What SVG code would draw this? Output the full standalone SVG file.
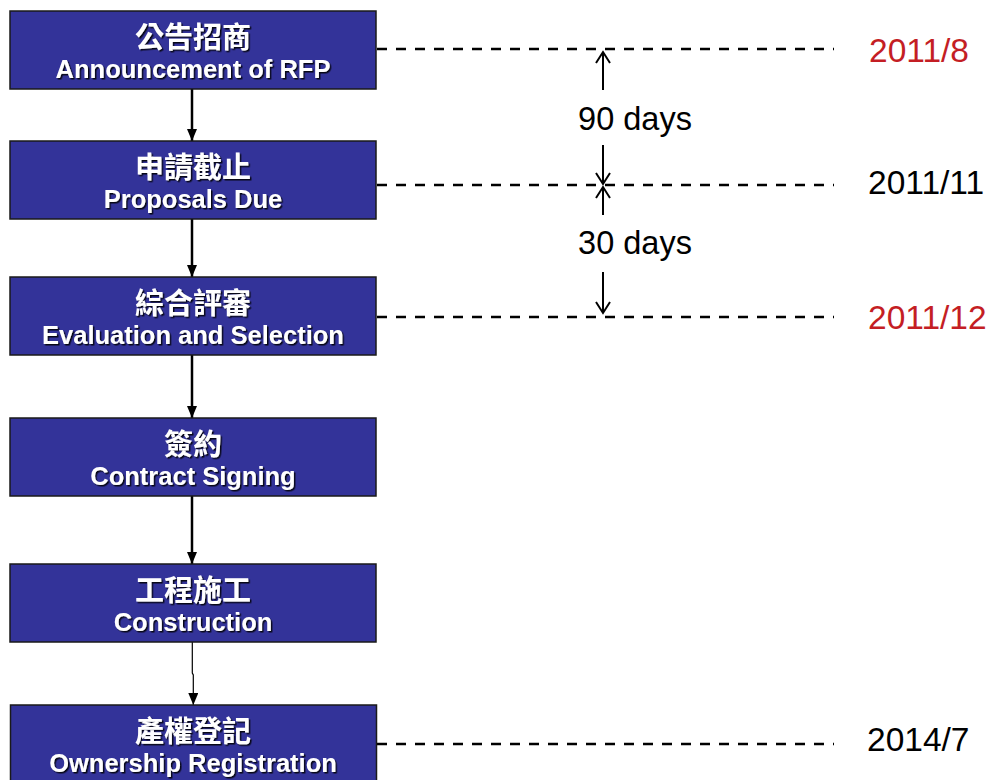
<svg xmlns="http://www.w3.org/2000/svg" width="992" height="780" viewBox="0 0 992 780">
<style>
.box{fill:#333399;stroke:#1a1a1a;stroke-width:1.5}
.zh{font-family:"Liberation Sans","Noto Sans CJK TC",sans-serif;font-weight:bold;font-size:29px;fill:#fff;text-anchor:middle;filter:url(#sh)}
.en{font-family:"Liberation Sans",Arial,sans-serif;font-weight:bold;font-size:25.5px;fill:#fff;text-anchor:middle;filter:url(#sh)}
.flow{stroke:#000;stroke-width:2.5;fill:none}
.dash{stroke:#000;stroke-width:2.5;stroke-dasharray:10 9;fill:none}
.dim{stroke:#000;stroke-width:2;fill:none}
.lbl{font-family:"Liberation Sans",Arial,sans-serif;font-size:32.5px;fill:#000}
.date{font-family:"Liberation Sans",Arial,sans-serif;font-size:33.5px;fill:#000}
.red{fill:#C41E24}
</style>
<defs>
<filter id="sh" x="-10%" y="-30%" width="120%" height="160%">
<feDropShadow dx="1.5" dy="1.5" stdDeviation="0.4" flood-color="#000" flood-opacity="0.85"/>
</filter>
<marker id="ah" markerWidth="12" markerHeight="10" refX="12" refY="5" orient="auto" markerUnits="userSpaceOnUse">
<path d="M0,0 L12,5 L0,10 Z" fill="#000"/>
</marker>
<marker id="oa" markerWidth="14" markerHeight="16" refX="12" refY="8" orient="auto" markerUnits="userSpaceOnUse">
<path d="M1,1 L12,8 L1,15" fill="none" stroke="#000" stroke-width="2"/>
</marker>
</defs>

<g id="connectors">
<line class="flow" x1="192" y1="89" x2="192" y2="141" marker-end="url(#ah)"/>
<line class="flow" x1="192" y1="219" x2="192" y2="277" marker-end="url(#ah)"/>
<line class="flow" x1="192" y1="355" x2="192" y2="418" marker-end="url(#ah)"/>
<line class="flow" x1="192" y1="496" x2="192" y2="564" marker-end="url(#ah)"/>
<polyline points="192.3,642 192.3,673 193.3,675 193.3,705" fill="none" stroke="#000" stroke-width="1.2" marker-end="url(#ah)"/>
<line class="dash" x1="377" y1="49" x2="834" y2="49"/>
<line class="dash" x1="377" y1="185" x2="834" y2="185"/>
<line class="dash" x1="377" y1="317" x2="834" y2="317"/>
<line class="dash" x1="377" y1="744" x2="834" y2="744"/>
<line class="dim" x1="603" y1="90" x2="603" y2="52" marker-end="url(#oa)"/>
<line class="dim" x1="603" y1="145" x2="603" y2="184" marker-end="url(#oa)"/>
<line class="dim" x1="603" y1="215" x2="603" y2="187" marker-end="url(#oa)"/>
<line class="dim" x1="603" y1="272" x2="603" y2="313" marker-end="url(#oa)"/>
</g>

<g id="n1">
<rect class="box" x="10" y="11" width="366" height="78"/>
<text class="zh" x="193" y="48">公告招商</text>
<text class="en" x="193" y="78">Announcement of RFP</text>
</g>
<g id="n2">
<rect class="box" x="10" y="141" width="366" height="78"/>
<text class="zh" x="193" y="178">申請截止</text>
<text class="en" x="193" y="208">Proposals Due</text>
</g>
<g id="n3">
<rect class="box" x="10" y="277" width="366" height="78"/>
<text class="zh" x="193" y="314">綜合評審</text>
<text class="en" x="193" y="344">Evaluation and Selection</text>
</g>
<g id="n4">
<rect class="box" x="10" y="418" width="366" height="78"/>
<text class="zh" x="193" y="455">簽約</text>
<text class="en" x="193" y="485">Contract Signing</text>
</g>
<g id="n5">
<rect class="box" x="10" y="564" width="366" height="78"/>
<text class="zh" x="193" y="601">工程施工</text>
<text class="en" x="193" y="631">Construction</text>
</g>
<g id="n6">
<rect class="box" x="10.5" y="705" width="366" height="78"/>
<text class="zh" x="193" y="742">產權登記</text>
<text class="en" x="193" y="772">Ownership Registration</text>
</g>

<g id="labels">
<text class="lbl" x="635" y="130" text-anchor="middle">90 days</text>
<text class="lbl" x="635" y="254" text-anchor="middle">30 days</text>
<text class="date red" x="869" y="62">2011/8</text>
<text class="date" x="868" y="194">2011/11</text>
<text class="date red" x="868" y="329">2011/12</text>
<text class="date" x="867" y="751">2014/7</text>
</g>
</svg>
